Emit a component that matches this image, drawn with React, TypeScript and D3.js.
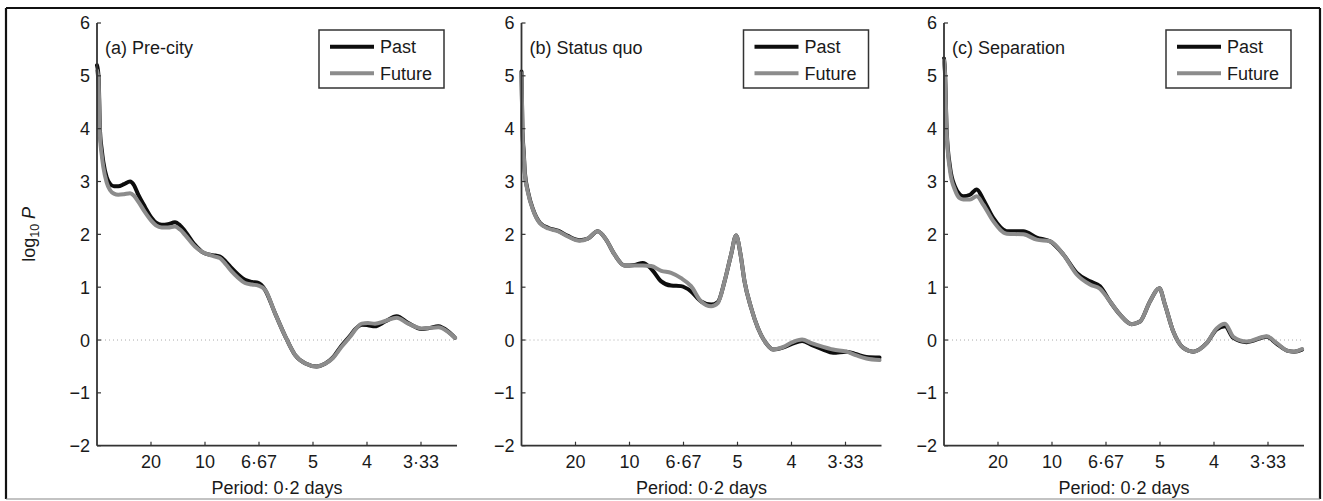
import React from "react";
import * as d3 from "d3";

// ---------- data (frequency in cycles per 0.2-day unit; values log10 P) ----------
const freqA = [0, 0.0014, 0.0028, 0.0044, 0.0058, 0.009, 0.012, 0.0157, 0.0197, 0.025, 0.0306, 0.0343, 0.0382, 0.0444, 0.0506, 0.0546, 0.0599, 0.0657, 0.0722, 0.0769, 0.0815, 0.0907, 0.0972, 0.103, 0.1093, 0.1139, 0.1194, 0.1247, 0.1306, 0.137, 0.1435, 0.1494, 0.1556, 0.1648, 0.1741, 0.1833, 0.1926, 0.2034, 0.2111, 0.2185, 0.2259, 0.2343, 0.2398, 0.2451, 0.2509, 0.2574, 0.2667, 0.2775, 0.2882, 0.3006, 0.3083, 0.316, 0.3253, 0.3315];
const pastA = [5.2, 5.0, 3.95, 3.6, 3.38, 3.08, 2.96, 2.91, 2.91, 2.95, 3.0, 2.93, 2.75, 2.52, 2.31, 2.22, 2.18, 2.19, 2.23, 2.17, 2.06, 1.8, 1.67, 1.62, 1.6, 1.58, 1.48, 1.36, 1.24, 1.14, 1.1, 1.08, 0.95, 0.51, 0.08, -0.28, -0.44, -0.5, -0.45, -0.33, -0.12, 0.08, 0.22, 0.29, 0.28, 0.26, 0.35, 0.45, 0.32, 0.21, 0.23, 0.26, 0.16, 0.04];
const futureA = [5.1, 4.9, 3.85, 3.5, 3.28, 2.98, 2.84, 2.77, 2.75, 2.76, 2.78, 2.73, 2.62, 2.42, 2.25, 2.17, 2.13, 2.13, 2.15, 2.09, 1.99, 1.77, 1.67, 1.62, 1.58, 1.55, 1.43, 1.3, 1.18, 1.08, 1.05, 1.03, 0.95, 0.51, 0.08, -0.28, -0.44, -0.5, -0.45, -0.34, -0.14, 0.06, 0.21, 0.31, 0.32, 0.31, 0.36, 0.42, 0.31, 0.22, 0.23, 0.24, 0.15, 0.04];

const freqB = [0, 0.0009, 0.0021, 0.0031, 0.0061, 0.0107, 0.017, 0.025, 0.0336, 0.0429, 0.0537, 0.0614, 0.0706, 0.0783, 0.0861, 0.0954, 0.1046, 0.1123, 0.1201, 0.1294, 0.1385, 0.1478, 0.157, 0.1663, 0.1756, 0.1818, 0.188, 0.1941, 0.1987, 0.2028, 0.2065, 0.2126, 0.2188, 0.2265, 0.2333, 0.2426, 0.2509, 0.2598, 0.2685, 0.2793, 0.2885, 0.3009, 0.3102, 0.3194, 0.3315];
const pastB = [5.08, 3.95, 3.55, 3.17, 2.8, 2.47, 2.22, 2.12, 2.07, 1.97, 1.89, 1.92, 2.06, 1.9, 1.62, 1.41, 1.42, 1.46, 1.35, 1.11, 1.03, 1.02, 0.92, 0.73, 0.67, 0.72, 1.11, 1.62, 1.98, 1.62, 1.11, 0.61, 0.23, -0.06, -0.18, -0.14, -0.07, -0.02, -0.09, -0.18, -0.24, -0.22, -0.27, -0.32, -0.33];
const futureB = [5.05, 3.9, 3.5, 3.14, 2.78, 2.46, 2.21, 2.11, 2.06, 1.96, 1.88, 1.92, 2.06, 1.9, 1.62, 1.41, 1.41, 1.41, 1.4, 1.31, 1.27, 1.17, 1.02, 0.73, 0.64, 0.7, 1.11, 1.62, 1.98, 1.62, 1.11, 0.61, 0.23, -0.06, -0.18, -0.13, -0.04, 0.01, -0.06, -0.13, -0.18, -0.22, -0.29, -0.35, -0.38];

const freqC = [0, 0.0009, 0.0025, 0.0056, 0.0102, 0.0148, 0.0179, 0.0241, 0.0303, 0.0364, 0.0456, 0.0581, 0.0734, 0.0858, 0.0981, 0.1105, 0.1229, 0.1352, 0.1444, 0.1537, 0.163, 0.1738, 0.1815, 0.1907, 0.1994, 0.2046, 0.2123, 0.2216, 0.2308, 0.2432, 0.2525, 0.2602, 0.2679, 0.2803, 0.2988, 0.3081, 0.3176, 0.3241, 0.3315];
const pastC = [5.33, 5.1, 3.95, 3.27, 2.9, 2.75, 2.72, 2.75, 2.85, 2.66, 2.31, 2.06, 2.06, 1.94, 1.87, 1.62, 1.27, 1.11, 1.02, 0.73, 0.48, 0.3, 0.35, 0.73, 0.98, 0.67, 0.16, -0.15, -0.22, -0.06, 0.2, 0.26, 0.04, -0.04, 0.06, -0.07, -0.2, -0.22, -0.18];
const futureC = [5.3, 5.05, 3.9, 3.2, 2.84, 2.68, 2.66, 2.66, 2.72, 2.56, 2.25, 2.01, 2.0, 1.9, 1.87, 1.62, 1.24, 1.05, 0.97, 0.73, 0.48, 0.3, 0.35, 0.73, 0.98, 0.67, 0.16, -0.15, -0.22, -0.06, 0.22, 0.31, 0.06, -0.03, 0.07, -0.06, -0.2, -0.22, -0.17];

const panelTitles = ["(a) Pre-city", "(b) Status quo", "(c) Separation"];
const seriesNames = ["Past", "Future"];
const xTickFreqs = [0.05, 0.1, 0.15, 0.2, 0.25, 0.3];
const xTickLabels = ["20", "10", "6·67", "5", "4", "3·33"];
const yTickValues = [-2, -1, 0, 1, 2, 3, 4, 5, 6];
const xAxisTitle = "Period: 0·2 days";

const panels = [
  { title: panelTitles[0], freq: freqA, past: pastA, future: futureA },
  { title: panelTitles[1], freq: freqB, past: pastB, future: futureB },
  { title: panelTitles[2], freq: freqC, past: pastC, future: futureC },
];

// ---------- layout ----------
const W = 1323;
const H = 501;
const panelLefts = [97, 521.5, 944];
const plotW = 360;
const plotTop = 23;
const plotBottom = 445.7;
const FONT = "Arial, 'Liberation Sans', Helvetica, sans-serif";
const FS = 18;
const AXIS = "#333";
const TEXT = "#1a1a1a";
const PAST_COLOR = "#0d0d0d";
const FUTURE_COLOR = "#8c8c8c";

const x = d3.scaleLinear().domain([0, 1 / 3]).range([0, plotW]);
const y = d3.scaleLinear().domain([-2, 6]).range([plotBottom, plotTop]);

function fmtY(v: number) {
  return v < 0 ? "\u2212" + Math.abs(v) : String(v);
}

function Panel({ p, left, showYLabel }: any) {
  const line = d3
    .line<number>()
    .x((_, i) => x(p.freq[i]))
    .y((d) => y(d))
    .curve(d3.curveMonotoneX);
  const legX = 222;
  const legY = 30;
  return (
    <g transform={`translate(${left},0)`}>
      <line x1={0} x2={plotW} y1={y(0)} y2={y(0)} stroke="#aaa" strokeWidth={1} strokeDasharray="1,3" />
      <path d={line(p.past) || ""} fill="none" stroke={PAST_COLOR} strokeWidth={4} strokeLinejoin="round" strokeLinecap="round" />
      <path d={line(p.future) || ""} fill="none" stroke={FUTURE_COLOR} strokeWidth={4} strokeLinejoin="round" strokeLinecap="round" />
      <line x1={0} x2={0} y1={y(-2)} y2={y(6)} stroke={AXIS} strokeWidth={1.8} />
      {yTickValues.map((v) => (
        <g key={v}>
          <line x1={0} x2={4} y1={y(v)} y2={y(v)} stroke={AXIS} strokeWidth={1.2} />
          <text x={-7} y={y(v)} dy="0.36em" textAnchor="end" fontSize={FS} fontFamily={FONT} fill={TEXT}>
            {fmtY(v)}
          </text>
        </g>
      ))}
      <line x1={0} x2={plotW} y1={plotBottom} y2={plotBottom} stroke={AXIS} strokeWidth={1.8} />
      {xTickFreqs.map((f, i) => (
        <g key={f}>
          <line x1={x(f)} x2={x(f)} y1={plotBottom} y2={plotBottom - 4} stroke={AXIS} strokeWidth={1.2} />
          <text x={x(f)} y={plotBottom + 22} textAnchor="middle" fontSize={FS} fontFamily={FONT} fill={TEXT}>
            {xTickLabels[i]}
          </text>
        </g>
      ))}
      <text x={plotW / 2} y={494} textAnchor="middle" fontSize={FS} fontFamily={FONT} fill={TEXT}>
        {xAxisTitle}
      </text>
      <text x={8} y={54} fontSize={FS} fontFamily={FONT} fill={TEXT}>
        {p.title}
      </text>
      <rect x={legX} y={legY} width={125} height={58} fill="#fff" stroke="#333" strokeWidth={1.5} />
      <line x1={legX + 11} x2={legX + 55} y1={legY + 16.7} y2={legY + 16.7} stroke={PAST_COLOR} strokeWidth={4} />
      <line x1={legX + 11} x2={legX + 55} y1={legY + 43.3} y2={legY + 43.3} stroke={FUTURE_COLOR} strokeWidth={4} />
      <text x={legX + 61} y={legY + 16.7} dy="0.36em" fontSize={FS} fontFamily={FONT} fill={TEXT}>
        {seriesNames[0]}
      </text>
      <text x={legX + 61} y={legY + 43.3} dy="0.36em" fontSize={FS} fontFamily={FONT} fill={TEXT}>
        {seriesNames[1]}
      </text>
      {showYLabel && (
        <text transform={`translate(${35 - left},${y(2)}) rotate(-90)`} textAnchor="middle" fontSize={FS} fontFamily={FONT} fill={TEXT}>
          log
          <tspan fontSize={12.5} dy={4}>10</tspan>
          <tspan dy={-4} fontStyle="italic"> P</tspan>
        </text>
      )}
    </g>
  );
}

export default function App() {
  return (
    <svg
      width={W}
      height={H}
      viewBox={`0 0 ${W} ${H}`}
      style={{ position: "absolute", left: 0, top: 0, background: "#fff" }}
    >
      <rect x={0} y={0} width={W} height={H} fill="#fff" />
      <line x1={6} x2={1320} y1={8} y2={8} stroke="#111" strokeWidth={2.2} />
      <line x1={6} x2={6} y1={8} y2={499} stroke="#111" strokeWidth={2.2} />
      <line x1={1320} x2={1320} y1={8} y2={499} stroke="#111" strokeWidth={2.2} />
      <line x1={6} x2={1320} y1={499} y2={499} stroke="#888" strokeWidth={1.2} />
      {panels.map((p, i) => (
        <Panel key={i} p={p} left={panelLefts[i]} showYLabel={i === 0} />
      ))}
    </svg>
  );
}
